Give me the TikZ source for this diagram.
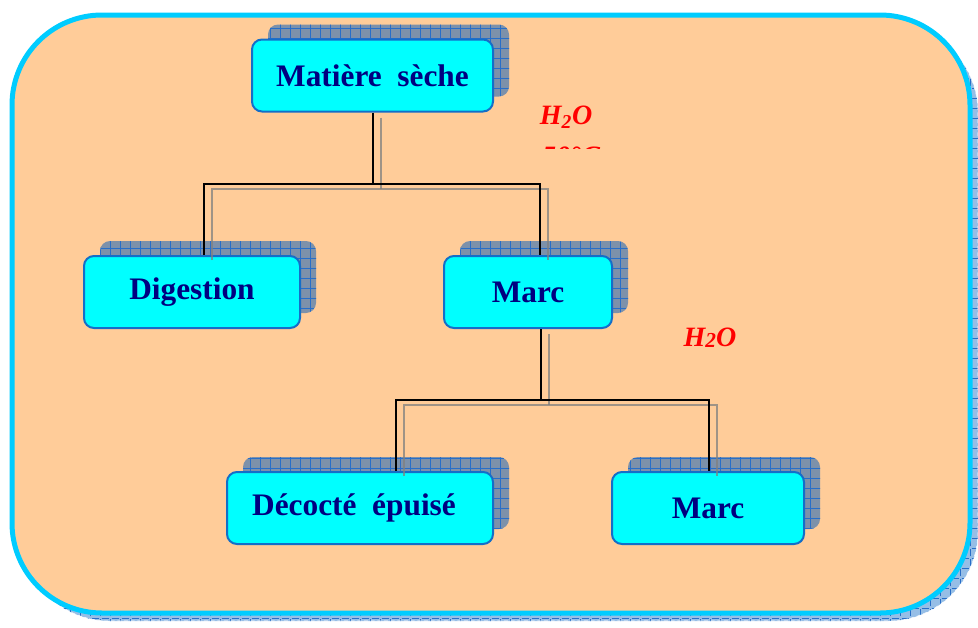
\documentclass[tikz,border=0pt]{standalone}
\usepackage{fontspec}
\setmainfont{Liberation Serif}
\usetikzlibrary{shadows,patterns.meta}

\definecolor{peach}{RGB}{255,204,153}
\definecolor{framecyan}{RGB}{0,204,255}
\definecolor{boxcyan}{RGB}{0,255,255}
\definecolor{boxline}{RGB}{20,110,200}
\definecolor{navytext}{RGB}{0,0,128}
\definecolor{shadowgray}{RGB}{125,145,170}
\definecolor{shadowlight}{RGB}{150,190,230}
\definecolor{gridblue}{RGB}{40,110,200}

\begin{document}
\begin{tikzpicture}[ x=0.75pt, y=-0.75pt,
  stage/.style={draw=boxline, line width=1.5pt, fill=boxcyan, rounded corners=7.5pt,
    minimum height=54pt, text=navytext, font=\fontsize{23.5}{26}\selectfont\bfseries,
    general shadow={fill=shadowgray, shadow xshift=12pt, shadow yshift=11.25pt},
    general shadow={pattern={Hatch[angle=0,distance=7.5pt,line width=0.6pt]},
      pattern color=gridblue, shadow xshift=12pt, shadow yshift=11.25pt}},
  link/.style={line width=1.5pt,
    preaction={draw=gray, line width=1.5pt, opacity=.75,
      transform canvas={shift={(6pt,-3.75pt)}}}},
  water/.style={text=red, font=\fontsize{21}{24}\selectfont\bfseries\itshape} ]

\useasboundingbox (0,0) rectangle (978,628);

% cadre
\draw[line width=3.75pt, draw=framecyan, fill=peach, rounded corners=67.5pt,
  general shadow={fill=shadowlight, shadow xshift=6pt, shadow yshift=-6pt},
  general shadow={pattern={Hatch[angle=0,distance=7.5pt,line width=0.4pt]},
    pattern color=gridblue, draw=white, densely dashed, line width=0.4pt,
    shadow xshift=6pt, shadow yshift=-6pt}]
  (12,15) rectangle (970,613);

% etapes
\node[stage, minimum width=180.75pt] (ms) at (372.5,75.5) {Matière\ \ sèche};
\node[stage, minimum width=162pt] (dg) at (192,292) {Digestion};
\node[stage, minimum width=126pt] (mc) at (528,292) {Marc};
\node[stage, minimum width=199.5pt] (dc) at (360,508) {Décocté\ \ épuisé\hspace*{9pt}};
\node[stage, minimum width=144pt] (mr) at (708,508) {Marc};

% branchements
\coordinate (a1) at (204,184);
\coordinate (a2) at (540,184);
\coordinate (b1) at (541,400);
\coordinate (c1) at (396,400);
\coordinate (c2) at (709,400);

\draw[link] (ms.south) -- (ms.south |- a1);
\draw[link] (dg.north -| a1) -- (a1) -- (a2) -- (mc.north -| a2);
\draw[link] (mc.south -| b1) -- (b1);
\draw[link] (dc.north -| c1) -- (c1) -- (c2) -- (mr.north -| c2);

% solvant
\node[water] (h2oa) at (566,117) {H\textsubscript{2}O};
\node[water] (h2ob) at (710,338) {H\raisebox{-1pt}{\fontsize{16}{16}\selectfont 2}O};
\begin{scope}
  \clip (520,100) rectangle (650,148);
  \node[water] (temp) at (571,156) {50°C};
\end{scope}

\end{tikzpicture}
\end{document}
